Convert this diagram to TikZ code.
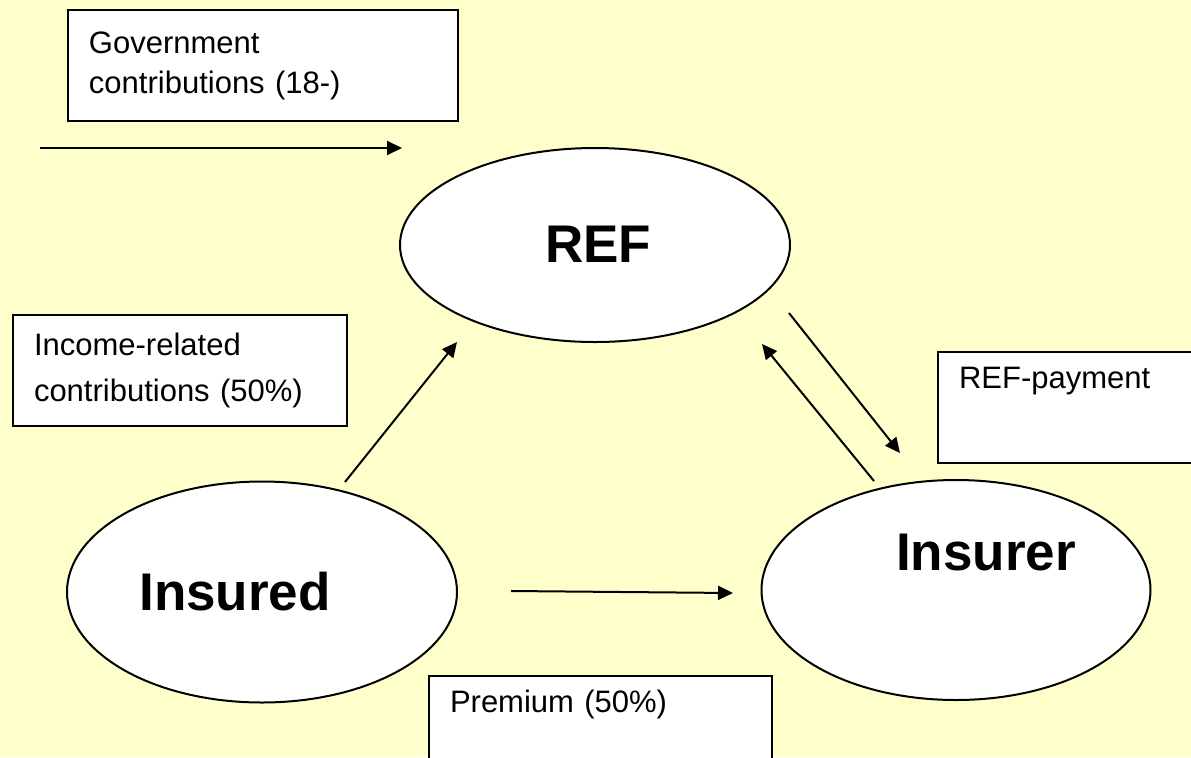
\documentclass[tikz,border=0pt]{standalone}
\usepackage{fontspec}
\setmainfont{Liberation Sans}
\usetikzlibrary{positioning,arrows.meta,shapes.geometric}
\definecolor{paleyellow}{HTML}{FFFFCC}

\begin{document}
\begin{tikzpicture}[x=0.5pt, y=-0.5pt,
    party/.style={ellipse, draw, line width=1pt, fill=white, inner sep=0pt},
    partyname/.style={inner sep=0pt, font=\fontsize{26.5}{30}\selectfont\bfseries},
    flowbox/.style={draw, line width=1pt, fill=white, anchor=north west, align=left,
        inner xsep=10.5pt, inner ysep=0pt, minimum height=55.5pt,
        font=\fontsize{15.5}{23}\selectfont},
    flow/.style={line width=1pt, -{Triangle[length=7.5pt, width=7pt]}}]

        % Fundo
        \useasboundingbox (0, 0) rectangle (1191, 757);
        \clip (0, 0) rectangle (1191, 757);
        \fill[paleyellow] (0, 0) rectangle (1191, 757);

        % Partes
        \node[party, minimum width=195pt, minimum height=97pt] (ref) at (595, 245) {};
        \node[party, minimum width=195pt, minimum height=110.5pt] (insured) at (262, 592) {};
        \node[party, minimum width=194.5pt, minimum height=110pt] (insurer) at (956, 590) {};
        \node[partyname] (refname) at (598, 244) {REF};
        \node[partyname] (insuredname) at (235, 592) {Insured};
        \node[partyname] (insurername) at (986, 553) {Insurer};

        % Caixas
        \node[flowbox, text width=174pt, font=\fontsize{15.5}{20}\selectfont] (govbox) at (67, 9)
            {Government\\contributions (18-)};
        \node[flowbox, text width=146pt] (incomebox) at (12, 314)
            {Income-related\\contributions (50\%)};
        \node[flowbox, text width=149pt] (paybox) at (937, 351) {REF-payment\\ \strut};
        \node[flowbox, text width=150.5pt] (premiumbox) at (428, 675) {Premium (50\%)\\ \strut};

        % Fluxos
        \coordinate (govstart) at (40, 148);
        \coordinate (govend) at (402, 148);
        \coordinate (incomestart) at (345, 482);
        \coordinate (incomeend) at (457, 342);
        \coordinate (paystart) at (789, 313);
        \coordinate (payend) at (900, 453);
        \coordinate (backstart) at (874, 481);
        \coordinate (backend) at (762, 344);
        \coordinate (premiumstart) at (511, 591);
        \coordinate (premiumend) at (733, 593);
        \draw[flow] (govstart) -- (govend);
        \draw[flow] (incomestart) -- (incomeend);
        \draw[flow] (paystart) -- (payend);
        \draw[flow] (backstart) -- (backend);
        \draw[flow] (premiumstart) -- (premiumend);
    \end{tikzpicture}
\end{document}
